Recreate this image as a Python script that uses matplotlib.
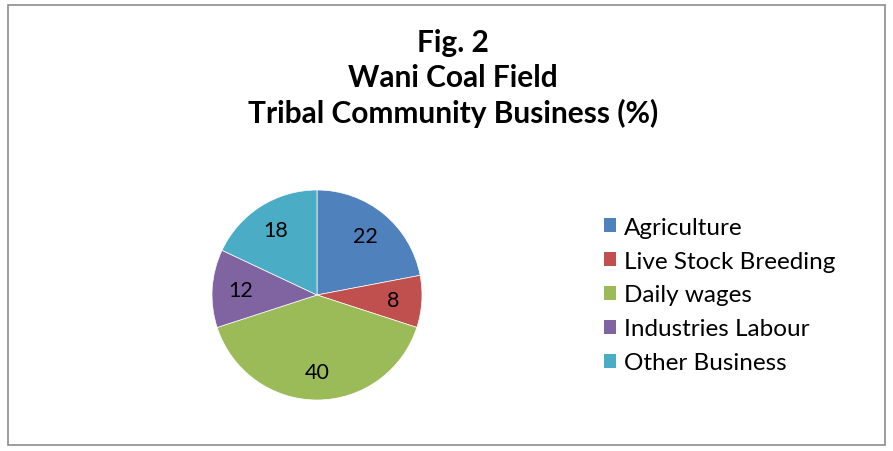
import matplotlib.pyplot as plt
from matplotlib.patches import Rectangle

# Daten
categories = ['Agriculture', 'Live Stock Breeding', 'Daily wages',
              'Industries Labour', 'Other Business']
values = [22, 8, 40, 12, 18]
colors = ['#4F81BD', '#C0504D', '#9BBB59', '#8064A2', '#4BACC6']
title_lines = ['Fig. 2', 'Wani Coal Field', 'Tribal Community Business (%)']

W, H = 893, 452
fig = plt.figure(figsize=(W / 100, H / 100), dpi=100)
fig.patch.set_facecolor('white')

# Rahmen
fig.patches.append(Rectangle((8 / W, 6 / H), 877 / W, 440 / H, transform=fig.transFigure,
                             fill=False, edgecolor='#8c8c8c', linewidth=1.2))

# Titel
for i, line in enumerate(title_lines):
    fig.text(453 / W, 1 - (43 + 35 * i) / H, line, ha='center', va='center',
             fontsize=21.5, fontweight='bold', family='Lato')

# Kreisdiagramm
cx, cy, r = 317, H - 296, 105
ax = fig.add_axes([(cx - r) / W, (cy - r) / H, 2 * r / W, 2 * r / H])
wedges, _, autotexts = ax.pie(values, colors=colors, startangle=90, counterclock=False,
                              autopct=lambda p: f'{p:.0f}', pctdistance=0.73,
                              wedgeprops=dict(linewidth=0.5, edgecolor='white'))
for t in autotexts:
    t.set_fontsize(15.5)
    t.set_family('Lato')
ax.set_xlim(-1, 1)
ax.set_ylim(-1, 1)
ax.set_aspect('equal')
ax.axis('off')

# Legende
leg = fig.legend(wedges, categories, loc='upper left', bbox_to_anchor=(594 / W, 1 - 208 / H),
                 frameon=False, prop={'family': 'Lato', 'size': 17.5},
                 handlelength=0.52, handleheight=0.52, handletextpad=0.3,
                 labelspacing=0.53, borderaxespad=0)
for h in leg.legend_handles:
    h.set_linewidth(0)

fig.savefig('out.png', dpi=100)
